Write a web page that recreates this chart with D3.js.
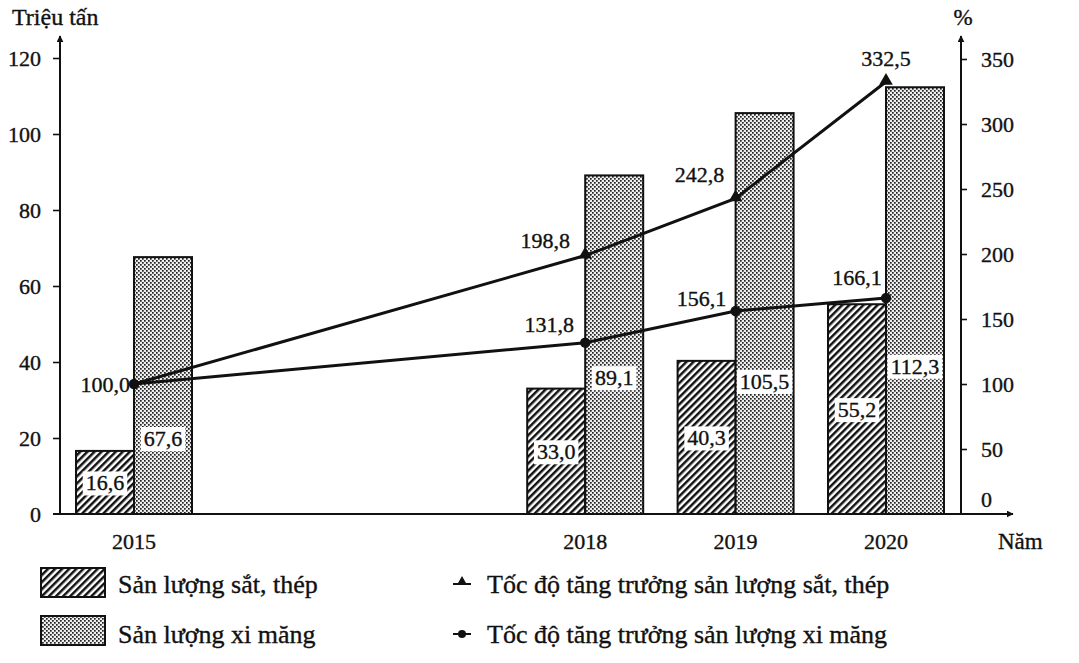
<!DOCTYPE html>
<html>
<head>
<meta charset="utf-8">
<script src="https://cdn.jsdelivr.net/npm/d3@7"></script>
<style>
  body { margin: 0; background: #fff; }
  svg text { font-family: "Liberation Serif", "Times New Roman", serif; fill: #111; stroke: #111; stroke-width: 0.35px; }
</style>
</head>
<body>
<svg id="chart" width="1079" height="663"></svg>
<script>
// Data
const years = [2015, 2018, 2019, 2020];
const steelOutput = [16.6, 33.0, 40.3, 55.2];       // triệu tấn
const cementOutput = [67.6, 89.1, 105.5, 112.3];    // triệu tấn
const steelGrowth = [100.0, 198.8, 242.8, 332.5];   // %
const cementGrowth = [100.0, 131.8, 156.1, 166.1];  // %
const leftTicks = [0, 20, 40, 60, 80, 100, 120];
const rightTicks = [0, 50, 100, 150, 200, 250, 300, 350];

const fmt = v => v.toFixed(1).replace(".", ",");
const FS = "22px";

const svg = d3.select("#chart");

// scales
const x = d3.scaleLinear().domain([2015, 2020]).range([134, 886]);
const yL = d3.scaleLinear().domain([0, 120]).range([514, 58]);
const yR = d3.scaleLinear().domain([0, 350]).range([514, 59]);
const axisL = 60, axisR = 961, base = 514;
const barW = 58;

// patterns
const defs = svg.append("defs");
const hatch = defs.append("pattern")
  .attr("id", "hatch").attr("patternUnits", "userSpaceOnUse")
  .attr("width", 5).attr("height", 5)
  .attr("patternTransform", "rotate(45)");
hatch.append("rect").attr("width", 5).attr("height", 5).attr("fill", "#fff");
hatch.append("rect").attr("x", 0).attr("y", 0).attr("width", 2.5).attr("height", 5).attr("fill", "#111");

const dots = defs.append("pattern")
  .attr("id", "dots").attr("patternUnits", "userSpaceOnUse")
  .attr("width", 4).attr("height", 4);
dots.append("rect").attr("width", 4).attr("height", 4).attr("fill", "#eee");
dots.append("rect").attr("x", 0).attr("y", 0).attr("width", 1.7).attr("height", 1.7).attr("fill", "#222");
dots.append("rect").attr("x", 2).attr("y", 2).attr("width", 1.7).attr("height", 1.7).attr("fill", "#222");

defs.append("marker")
  .attr("id", "arrow").attr("viewBox", "0 0 10 10")
  .attr("refX", 9).attr("refY", 5)
  .attr("markerWidth", 7).attr("markerHeight", 7)
  .attr("markerUnits", "userSpaceOnUse")
  .attr("orient", "auto")
  .append("path").attr("d", "M0,0L10,5L0,10Z").attr("fill", "#111");

// bars
const g = svg.append("g");
g.selectAll(".steel").data(years).enter().append("rect")
  .attr("x", d => x(d) - barW)
  .attr("y", (d, i) => yL(steelOutput[i]))
  .attr("width", barW)
  .attr("height", (d, i) => base - yL(steelOutput[i]))
  .attr("fill", "url(#hatch)").attr("stroke", "#111").attr("stroke-width", 2);

g.selectAll(".cement").data(years).enter().append("rect")
  .attr("x", d => x(d))
  .attr("y", (d, i) => yL(cementOutput[i]))
  .attr("width", barW)
  .attr("height", (d, i) => base - yL(cementOutput[i]))
  .attr("fill", "url(#dots)").attr("stroke", "#111").attr("stroke-width", 2);

// axes
const leftAxis = d3.axisLeft(yL).tickValues(leftTicks).tickSize(7).tickPadding(12).tickFormat(d => d);
const gl = svg.append("g").attr("transform", `translate(${axisL},0)`).call(leftAxis);
gl.select(".domain").remove();
gl.append("line").attr("x1", 0).attr("x2", 0).attr("y1", base).attr("y2", 36)
  .attr("stroke", "#111").attr("stroke-width", 2).attr("marker-end", "url(#arrow)");

const rightAxis = d3.axisRight(yR).tickValues(rightTicks).tickSize(6).tickPadding(14).tickFormat(d => d);
const gr = svg.append("g").attr("transform", `translate(${axisR},0)`).call(rightAxis);
gr.select(".domain").remove();
gr.append("line").attr("x1", 0).attr("x2", 0).attr("y1", base).attr("y2", 36)
  .attr("stroke", "#111").attr("stroke-width", 2).attr("marker-end", "url(#arrow)");
gr.selectAll(".tick").filter(d => d === 0).select("text").attr("y", -15);
gr.selectAll(".tick").filter(d => d === 0).select("line").remove();

[gl, gr].forEach(a => {
  a.selectAll(".tick line").attr("stroke", "#111").attr("stroke-width", 1.6);
  a.selectAll(".tick text").style("font-size", FS).attr("fill", "#111");
});
gl.selectAll(".tick").filter(d => d === 0).select("line").remove();

svg.append("line").attr("x1", 53).attr("x2", 1013).attr("y1", base).attr("y2", base)
  .attr("stroke", "#111").attr("stroke-width", 2).attr("marker-end", "url(#arrow)");

// year labels
svg.selectAll(".year").data(years).enter().append("text")
  .attr("x", d => x(d)).attr("y", 549)
  .attr("text-anchor", "middle").style("font-size", FS)
  .text(d => d);
svg.append("text").attr("x", 998).attr("y", 549).style("font-size", "23px").text("Năm");
svg.append("text").attr("x", 12).attr("y", 25).style("font-size", "24px").text("Triệu tấn");
svg.append("text").attr("x", 963).attr("y", 25).attr("text-anchor", "middle").style("font-size", "23px").text("%");

// bar value labels (white boxes)
function boxLabel(cx, cy, txt, anchor) {
  const t = svg.append("text").attr("x", cx).attr("y", cy + 8)
    .attr("text-anchor", anchor || "middle").style("font-size", FS).text(txt);
  const b = t.node().getBBox();
  svg.insert("rect", () => t.node())
    .attr("x", b.x - 3).attr("y", b.y + 1).attr("width", b.width + 6).attr("height", b.height - 1)
    .attr("fill", "#fff");
}
const cementLabelAt = [20, 36, 35, 39];
years.forEach((yr, i) => {
  boxLabel(x(yr) - barW / 2, (yL(steelOutput[i]) + base) / 2, fmt(steelOutput[i]));
  boxLabel(x(yr) + barW / 2, yL(cementLabelAt[i]), fmt(cementOutput[i]));
});

// lines
const line = d3.line().x(d => x(d[0])).y(d => yR(d[1]));
const steelPts = years.map((d, i) => [d, steelGrowth[i]]);
const cementPts = years.map((d, i) => [d, cementGrowth[i]]);
svg.append("path").attr("d", line(steelPts)).attr("fill", "none").attr("stroke", "#111").attr("stroke-width", 3);
svg.append("path").attr("d", line(cementPts)).attr("fill", "none").attr("stroke", "#111").attr("stroke-width", 3);

const tri = d3.symbol().type(d3.symbolTriangle).size(80);
svg.selectAll(".tri").data(steelPts.slice(1)).enter().append("path")
  .attr("d", tri).attr("transform", d => `translate(${x(d[0])},${yR(d[1]) - 1})`).attr("fill", "#111");
svg.selectAll(".dot").data(cementPts).enter().append("circle")
  .attr("cx", d => x(d[0])).attr("cy", d => yR(d[1])).attr("r", 5.2).attr("fill", "#111");

// line value labels
const steelLabelOff = [null, [-40, -16], [-36, -24], [0, -24]];
const cementLabelOff = [[-4, 0], [-36, -19], [-34, -13], [-29, -21]];
steelPts.forEach((d, i) => {
  if (!steelLabelOff[i]) return;
  svg.append("text").attr("x", x(d[0]) + steelLabelOff[i][0]).attr("y", yR(d[1]) + steelLabelOff[i][1] + 8)
    .attr("text-anchor", "middle").style("font-size", FS).text(fmt(d[1]));
});
cementPts.forEach((d, i) => {
  const o = cementLabelOff[i];
  if (i === 0) {
    svg.append("text").attr("x", x(d[0]) + o[0]).attr("y", yR(d[1]) + 8)
      .attr("text-anchor", "end").style("font-size", FS).text(fmt(d[1]));
  } else if (i === 3) {
    boxLabel(x(d[0]) + o[0], yR(d[1]) + o[1], fmt(d[1]));
  } else {
    svg.append("text").attr("x", x(d[0]) + o[0]).attr("y", yR(d[1]) + o[1] + 8)
      .attr("text-anchor", "middle").style("font-size", FS).text(fmt(d[1]));
  }
});

// legend
const LFS = "26px";
const legend = svg.append("g");
legend.append("rect").attr("x", 41).attr("y", 568).attr("width", 64).attr("height", 29)
  .attr("fill", "url(#hatch)").attr("stroke", "#111").attr("stroke-width", 2);
legend.append("text").attr("x", 118).attr("y", 593).style("font-size", LFS).text("Sản lượng sắt, thép");
legend.append("rect").attr("x", 41).attr("y", 616).attr("width", 64).attr("height", 29)
  .attr("fill", "url(#dots)").attr("stroke", "#111").attr("stroke-width", 2);
legend.append("text").attr("x", 118).attr("y", 643).style("font-size", LFS).text("Sản lượng xi măng");

legend.append("line").attr("x1", 453).attr("x2", 471).attr("y1", 584).attr("y2", 584).attr("stroke", "#111").attr("stroke-width", 2);
legend.append("path").attr("d", d3.symbol().type(d3.symbolTriangle).size(45)).attr("transform", "translate(462,582)").attr("fill", "#111");
legend.append("text").attr("x", 487).attr("y", 593).style("font-size", LFS).text("Tốc độ tăng trưởng sản lượng sắt, thép");
legend.append("line").attr("x1", 453).attr("x2", 471).attr("y1", 634).attr("y2", 634).attr("stroke", "#111").attr("stroke-width", 2);
legend.append("circle").attr("cx", 462).attr("cy", 634).attr("r", 4).attr("fill", "#111");
legend.append("text").attr("x", 487).attr("y", 643).style("font-size", LFS).text("Tốc độ tăng trưởng sản lượng xi măng");
</script>
</body>
</html>
